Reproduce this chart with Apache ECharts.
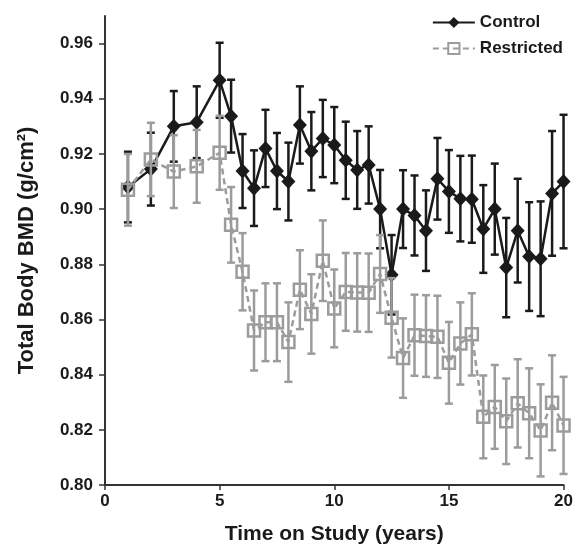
<!DOCTYPE html>
<html>
<head>
<meta charset="utf-8">
<script src="https://cdn.jsdelivr.net/npm/echarts@6/dist/echarts.min.js"></script>
<style>html,body{margin:0;padding:0;background:#fff}#c{width:576px;height:550px}</style>
</head>
<body>
<div id="c"></div>
<script>
const years = [1,2,3,4,5,5.5,6,6.5,7,7.5,8,8.5,9,9.5,10,10.5,11,11.5,12,12.5,13,13.5,14,14.5,15,15.5,16,16.5,17,17.5,18,18.5,19,19.5,20];
const controlMean = [0.908,0.9145,0.930,0.9315,0.9467,0.9337,0.9138,0.9076,0.922,0.9138,0.910,0.9305,0.921,0.9256,0.9232,0.9177,0.9142,0.916,0.900,0.8762,0.900,0.8977,0.8922,0.911,0.9064,0.9038,0.9036,0.8928,0.900,0.8788,0.8922,0.8828,0.882,0.9057,0.910];
const controlErr = [0.0128,0.0132,0.0128,0.013,0.0136,0.0132,0.0134,0.0137,0.014,0.0138,0.0141,0.014,0.0142,0.014,0.0138,0.014,0.0141,0.014,0.0142,0.0144,0.0141,0.0145,0.0146,0.0148,0.015,0.0155,0.0158,0.0159,0.0165,0.018,0.0188,0.0197,0.0208,0.0226,0.0242];
const restrictedMean = [0.907,0.918,0.9136,0.9155,0.9204,0.8943,0.8773,0.856,0.859,0.859,0.8518,0.8708,0.862,0.8813,0.864,0.870,0.8698,0.8697,0.8765,0.8606,0.846,0.8543,0.854,0.8537,0.8443,0.8513,0.8546,0.8247,0.8283,0.8231,0.8296,0.826,0.8198,0.8298,0.8216];
const restrictedErr = [0.013,0.0133,0.0132,0.0132,0.0134,0.0137,0.014,0.0145,0.0141,0.0141,0.0144,0.0143,0.0144,0.0146,0.0141,0.0141,0.0142,0.0142,0.0141,0.0144,0.0144,0.0147,0.0148,0.0149,0.0148,0.0149,0.0149,0.015,0.0152,0.0155,0.016,0.0163,0.0167,0.0172,0.0176];
const yTicks = [0.80,0.82,0.84,0.86,0.88,0.90,0.92,0.94,0.96];
const xTicks = [0,5,10,15,20];
const seriesNames = ['Control','Restricted'];

const BLACK = '#1a1a1a', GRAY = '#9c9c9c';
const FONT = '"Liberation Sans", Arial, sans-serif';

function pts(mean){ return years.map((x,i)=>[x, mean[i]]); }
function bars(mean, err){ return years.map((x,i)=>[x, mean[i]-err[i], mean[i]+err[i]]); }
function errRender(color){
  return function(params, api){
    const x = api.value(0);
    const lo = api.coord([x, api.value(1)]);
    const hi = api.coord([x, api.value(2)]);
    const w = 4;
    const st = {stroke: color, lineWidth: 2.5};
    return {type:'group', children:[
      {type:'line', shape:{x1:lo[0],y1:lo[1],x2:hi[0],y2:hi[1]}, style:st},
      {type:'line', shape:{x1:lo[0]-w,y1:lo[1],x2:lo[0]+w,y2:lo[1]}, style:st},
      {type:'line', shape:{x1:hi[0]-w,y1:hi[1],x2:hi[0]+w,y2:hi[1]}, style:st}
    ]};
  };
}

const chart = echarts.init(document.getElementById('c'), null, {renderer:'canvas'});
chart.setOption({
  animation:false,
  textStyle:{fontFamily:FONT},
  grid:{left:105, right:10, top:16, bottom:64, containLabel:false},
  legend:{
    orient:'vertical', right:8, top:9, itemGap:9, itemWidth:42, itemHeight:14,
    textStyle:{fontFamily:FONT, fontWeight:'bold', fontSize:17, color:BLACK},
    data: seriesNames
  },
  xAxis:{
    type:'value', min:0, max:20, interval:5,
    name:'Time on Study (years)', nameLocation:'middle', nameGap:39,
    nameTextStyle:{fontFamily:FONT, fontWeight:'bold', fontSize:21, color:BLACK},
    axisLine:{show:true, lineStyle:{color:'#333', width:2}},
    axisTick:{show:true, length:5, lineStyle:{color:'#333', width:1.5}, customValues:xTicks},
    axisLabel:{fontFamily:FONT, fontWeight:'bold', fontSize:17, color:BLACK, margin:8, customValues:xTicks},
    splitLine:{show:false}
  },
  yAxis:{
    type:'value', min:0.80, max:0.97, interval:0.02,
    name:'Total Body BMD (g/cm²)', nameLocation:'middle', nameGap:67, nameRotate:90,
    nameTextStyle:{fontFamily:FONT, fontWeight:'bold', fontSize:22, color:BLACK},
    axisLine:{show:true, lineStyle:{color:'#333', width:2}},
    axisTick:{show:true, length:6, lineStyle:{color:'#333', width:1.5}, customValues:yTicks},
    axisLabel:{fontFamily:FONT, fontWeight:'bold', fontSize:17, color:BLACK, margin:12,
      customValues:yTicks, formatter:v=>v.toFixed(2)},
    splitLine:{show:false}
  },
  series:[
    {type:'custom', name:'ctrlErr', data:bars(controlMean, controlErr), renderItem:errRender(BLACK), z:2, silent:true},
    {type:'line', name:'Control', data:pts(controlMean), symbol:'diamond', symbolSize:[14,15],
      itemStyle:{color:BLACK}, lineStyle:{color:BLACK, width:2.5}, z:3},
    {type:'line', name:'Restricted', data:pts(restrictedMean), symbol:'rect', symbolSize:12,
      itemStyle:{color:'rgba(255,255,255,0)', borderColor:GRAY, borderWidth:2.5},
      lineStyle:{color:GRAY, width:2.5, type:[6,4]}, z:4},
    {type:'custom', name:'restErr', data:bars(restrictedMean, restrictedErr), renderItem:errRender(GRAY), z:5, silent:true}
  ]
});
</script>
</body>
</html>
